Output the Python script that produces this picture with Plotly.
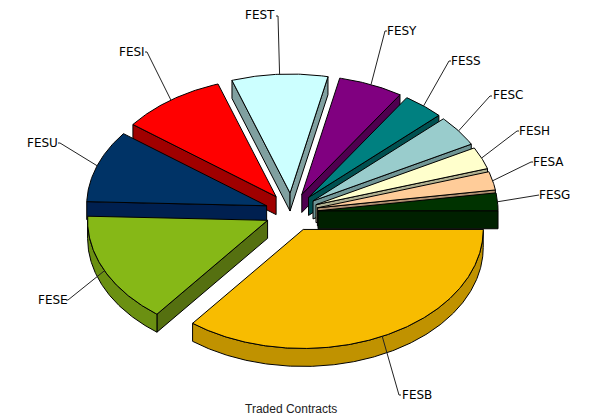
import numpy as np
import plotly.graph_objects as go

# Data: share of traded contracts, in percent, clockwise from 3 o'clock
categories = ["FESB", "FESE", "FESU", "FESI", "FEST", "FESY", "FESS", "FESC", "FESH", "FESA", "FESG"]
shares = [35.5, 15.0, 9.8, 9.4, 8.6, 5.8, 3.7, 4.2, 3.0, 2.5, 2.4]
title_text = "Traded Contracts"

# Style
top_colors = ["#F8BC00", "#86B817", "#003366", "#FF0000", "#CCFFFF", "#800080", "#008080", "#99CCCC", "#FFFFCC", "#FFCC99", "#003300"]
cut_colors = ["#C09200", "#557010", "#002050", "#A00000", "#80A0A0", "#500050", "#005050", "#709595", "#B0B090", "#B08F70", "#002000"]
rim_colors = ["#C09200", "#6B9012", "#002050", "#A00000", "#80A0A0", "#500050", "#005050", "#709595", "#B0B090", "#B08F70", "#002000"]
label_xy = [(400, 395), (36, 300), (25, 143), (117, 52), (243, 15), (385, 31), (449, 61), (491, 95), (517, 131), (531, 162), (537, 195)]
elbow_xy = [(399, 395), (68, 300), (60, 143), (147, 52), (278, 16), (385, 31), (449, 61), (490, 96), (517, 131), (531, 162), (537, 195)]

# Projection of the tilted pie, in page pixels
CX, CY, RX, RY, DEPTH, EX, EY = 291.6, 212.2, 180.0, 119.0, 18.0, 26.5, 19.2
WIDTH, HEIGHT = 592, 419


def arc(ox, oy, a, b, dy=0.0):
    t = np.radians(np.linspace(a, b, max(int(abs(b - a)) * 2, 2)))
    return ox + RX * np.cos(t), oy + RY * np.sin(t) + dy


def poly(fig, xs, ys, color):
    xs, ys = list(xs) + [xs[0]], list(ys) + [ys[0]]
    fig.add_trace(go.Scatter(x=xs, y=ys, mode="lines", fill="toself", fillcolor=color,
                             line=dict(color="#000000", width=1), hoverinfo="skip", showlegend=False))


fig = go.Figure()
total = sum(shares)
bounds = np.concatenate([[0.0], np.cumsum(shares) / total * 360.0])
mids = (bounds[:-1] + bounds[1:]) / 2
order = np.argsort(np.sin(np.radians(mids)))

for i in order:
    a, b, m = bounds[i], bounds[i + 1], np.radians(mids[i])
    ox, oy = CX + EX * np.cos(m), CY + EY * np.sin(m)
    sx, sy = ox + RX * np.cos(m), oy + RY * np.sin(m)

    # Cut faces that look towards the viewer
    for edge, visible in ((a, np.cos(np.radians(a)) < 0), (b, np.cos(np.radians(b)) > 0)):
        if visible:
            ex, ey = ox + RX * np.cos(np.radians(edge)), oy + RY * np.sin(np.radians(edge))
            poly(fig, [ox, ex, ex, ox], [oy, ey, ey + DEPTH, oy + DEPTH], cut_colors[i])

    # Outer rim, front half only
    lo, hi = max(a, 0.0), min(b, 180.0)
    if hi > lo:
        x1, y1 = arc(ox, oy, lo, hi)
        x2, y2 = arc(ox, oy, hi, lo, DEPTH)
        poly(fig, np.concatenate([x1, x2]), np.concatenate([y1, y2]), rim_colors[i])

    # Top face
    xt, yt = arc(ox, oy, a, b)
    poly(fig, np.concatenate([[ox], xt]), np.concatenate([[oy], yt]), top_colors[i])

    # Leader line with a short stub towards its label, then the label
    ex, ey = elbow_xy[i]
    stub = ex + (2 if label_xy[i][0] > ex - 5 else -2)
    fig.add_trace(go.Scatter(x=[sx, ex, stub], y=[sy, ey, ey], mode="lines",
                             line=dict(color="#222222", width=1), hoverinfo="skip", showlegend=False))
    fig.add_annotation(x=label_xy[i][0], y=label_xy[i][1], text=categories[i], showarrow=False,
                       xanchor="left", yanchor="middle",
                       font=dict(family="DejaVu Sans", size=12, color="#000000"))

fig.add_annotation(x=291, y=409, text=title_text, showarrow=False, xanchor="center", yanchor="middle",
                   font=dict(family="Liberation Sans", size=12, color="#222222"))

fig.update_layout(width=WIDTH, height=HEIGHT, margin=dict(l=0, r=0, t=0, b=0),
                  paper_bgcolor="#FFFFFF", plot_bgcolor="#FFFFFF", showlegend=False,
                  xaxis=dict(range=[0, WIDTH], visible=False, fixedrange=True),
                  yaxis=dict(range=[HEIGHT, 0], visible=False, fixedrange=True))
fig.write_html("out.html", config=dict(displayModeBar=False),
               post_script="document.body.style.margin='0';document.body.style.overflow='hidden';")
